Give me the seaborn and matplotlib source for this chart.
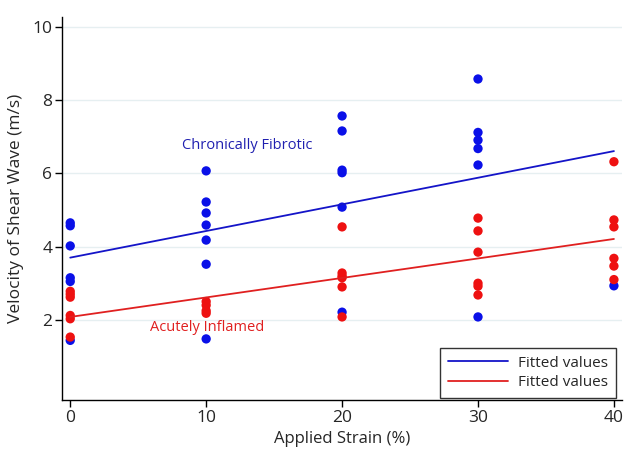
import numpy as np
import pandas as pd
import matplotlib
matplotlib.use("Agg")
import matplotlib.pyplot as plt
import seaborn as sns

# strain levels (%) and shear wave velocities (m/s)
strain_levels = [0, 10, 20, 30, 40]

fibrotic_vals = [
    [4.65, 4.57, 4.02, 3.15, 3.05, 1.44],
    [6.07, 5.22, 4.92, 4.59, 4.18, 3.52, 1.48],
    [7.57, 7.16, 6.09, 6.02, 5.08, 2.21],
    [8.58, 7.12, 6.91, 6.68, 6.23, 2.08],
    [2.93],
]
inflamed_vals = [
    [2.78, 2.70, 2.62, 2.12, 2.03, 1.53],
    [2.50, 2.40, 2.25, 2.18],
    [4.54, 3.28, 3.20, 3.15, 2.90, 2.08],
    [4.78, 4.43, 3.85, 3.00, 2.92, 2.68],
    [6.32, 4.73, 4.54, 3.68, 3.47, 3.10],
]

# fitted values at the ends of the strain range
fit_x = [0, 40]
fit_fibrotic = [3.70, 6.61]
fit_inflamed = [2.08, 4.21]


def to_frame(levels, vals):
    rows = []
    for s, vs in zip(levels, vals):
        for v in vs:
            rows.append({"strain": s, "velocity": v})
    return pd.DataFrame(rows)


fib = to_frame(strain_levels, fibrotic_vals)
inf = to_frame(strain_levels, inflamed_vals)
fits = pd.DataFrame({"strain": fit_x, "fib": fit_fibrotic, "inf": fit_inflamed})

sns.set_style("white")
plt.rcParams["font.family"] = ["Open Sans", "DejaVu Sans"]

fig = plt.figure(figsize=(6.4, 4.63), dpi=100)
ax = fig.add_axes([0.097, 0.136, 0.875, 0.827])

blue_pt = "#0a10e8"
red_pt = "#ee1111"

sns.scatterplot(data=fib, x="strain", y="velocity", color=blue_pt, s=45,
                edgecolor="none", ax=ax, zorder=3)
sns.scatterplot(data=inf, x="strain", y="velocity", color=red_pt, s=45,
                edgecolor="none", ax=ax, zorder=4)
sns.lineplot(data=fits, x="strain", y="fib", color="#1414c8", lw=1.3,
             label="Fitted values", ax=ax, zorder=5)
sns.lineplot(data=fits, x="strain", y="inf", color="#e02020", lw=1.3,
             label="Fitted values", ax=ax, zorder=5)

ax.text(8.25, 6.75, "Chronically Fibrotic", color="#2020b0", fontsize=10.5,
        va="center", ha="left")
ax.text(5.9, 1.8, "Acutely Inflamed", color="#e02020", fontsize=10.5,
        va="center", ha="left")

ax.set_xlim(-0.6, 40.6)
ax.set_ylim(-0.19, 10.27)
ax.set_xticks(strain_levels)
ax.set_yticks([2, 4, 6, 8, 10])
ax.yaxis.grid(True, color="#e6eff1", lw=1.0)
ax.set_axisbelow(True)
for side in ["top", "right"]:
    ax.spines[side].set_visible(False)
for side in ["left", "bottom"]:
    ax.spines[side].set_color("black")
    ax.spines[side].set_linewidth(1.0)
ax.tick_params(axis="both", direction="out", length=5, width=1, color="black",
               labelsize=12.5, left=True, bottom=True, pad=2)
ax.set_xlabel("Applied Strain (%)", fontsize=12, labelpad=4)
ax.set_ylabel("Velocity of Shear Wave (m/s)", fontsize=12.5, labelpad=6)

leg = ax.legend(loc="lower right", bbox_to_anchor=(616 / 640, 1 - 398 / 463),
                bbox_transform=fig.transFigure, borderaxespad=0,
                frameon=True, fancybox=False, edgecolor="black", fontsize=11,
                handlelength=3.9, handletextpad=0.7, borderpad=0.5,
                labelspacing=0.3)
leg.get_frame().set_linewidth(1.0)

fig.savefig("out.png", dpi=100)
